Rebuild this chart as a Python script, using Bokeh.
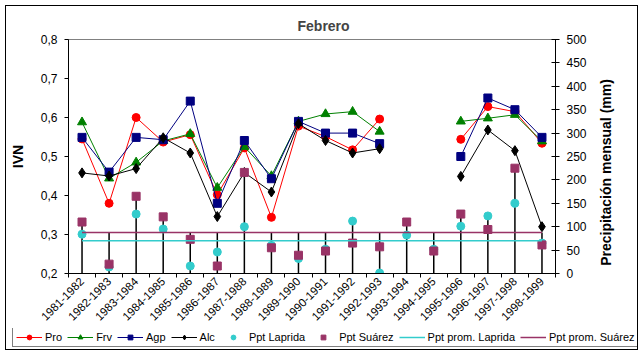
import math
from bokeh.plotting import figure
from bokeh.layouts import column, row
from bokeh.models import (Range1d, LinearAxis, FixedTicker, CustomJSTickFormatter,
                          Legend, LegendItem, ColumnDataSource)
from bokeh.embed import file_html
from bokeh.resources import INLINE

nan = float("nan")

seasons = ["1981-1982", "1982-1983", "1983-1984", "1984-1985", "1985-1986", "1986-1987",
           "1987-1988", "1988-1989", "1989-1990", "1990-1991", "1991-1992", "1992-1993",
           "1993-1994", "1994-1995", "1995-1996", "1996-1997", "1997-1998", "1998-1999"]

pro = [0.545, 0.380, 0.600, 0.537, 0.556, 0.402, 0.522, 0.344, 0.578, 0.551, 0.517, 0.596,
       nan, nan, 0.544, 0.628, 0.615, 0.534]
frv = [0.588, 0.444, 0.485, 0.540, 0.558, 0.420, 0.525, 0.450, 0.590, 0.609, 0.615, 0.564,
       nan, nan, 0.590, 0.598, 0.607, 0.539]
agp = [0.549, 0.460, 0.549, 0.543, 0.642, 0.380, 0.541, 0.443, 0.590, 0.560, 0.560, 0.533,
       nan, nan, 0.500, 0.650, 0.620, 0.549]
alc = [0.458, 0.450, 0.469, 0.548, 0.509, 0.346, 0.459, 0.409, 0.584, 0.541, 0.509, 0.520,
       nan, nan, 0.449, 0.568, 0.515, 0.320]

ppt_laprida = [84, 14, 127, 95, 16, 46, 100, 60, 32, 52, 112, 1, 82, 52, 101, 123, 150, 65]
ppt_suarez = [110, 20, 165, 121, 73, 16, 216, 55, 39, 48, 65, 57, 110, 48, 127, 94, 225, 61]
prom_laprida = 70.0
prom_suarez = 87.5

ivn_ticks = [0.2, 0.3, 0.4, 0.5, 0.6, 0.7, 0.8]
ppt_ticks = [0, 50, 100, 150, 200, 250, 300, 350, 400, 450, 500]

n = len(seasons)
xc = [i + 0.5 for i in range(n)]
prom_l = [prom_laprida] * n
prom_s = [prom_suarez] * n
drop_top = [max(v for v in (a, b, c, d) if v == v) for a, b, c, d in
            zip(ppt_laprida, ppt_suarez, prom_l, prom_s)]

src = ColumnDataSource(dict(x=xc, pro=pro, frv=frv, agp=agp, alc=alc,
                            lap=ppt_laprida, sua=ppt_suarez, pl=prom_l, ps=prom_s,
                            top=drop_top, zero=[0] * n))

FONT = "Liberation Sans"

series_style = [
    # label, column, colour, marker, size, has_line, y_range
    ("Pro", "pro", "#FF0000", "circle", 8, True, "default"),
    ("Frv", "frv", "#008000", "triangle", 9, True, "default"),
    ("Agp", "agp", "#000080", "square", 8, True, "default"),
    ("Alc", "alc", "#000000", "diamond", 10, True, "default"),
    ("Ppt Laprida", "lap", "#33CCCC", "circle", 8, False, "ppt"),
    ("Ppt Suárez", "sua", "#993366", "square", 8, False, "ppt"),
]


def no_align(fig):
    try:
        fig.frame_align = False
    except Exception:
        pass


def blank(fig):
    fig.xgrid.visible = False
    fig.ygrid.visible = False
    fig.background_fill_color = "white"
    fig.border_fill_color = "white"


# ---------------- main chart ----------------
p = figure(width=587, height=322, x_range=Range1d(0, n), y_range=Range1d(0.2, 0.8),
           output_backend="svg", toolbar_location=None,
           min_border_left=61, min_border_right=38, min_border_top=33, min_border_bottom=55)
p.extra_y_ranges = {"ppt": Range1d(0, 500)}
blank(p)
no_align(p)
p.outline_line_color = "#808080"

p.title.text = "Febrero"
p.title.text_font = FONT
p.title.text_font_size = "14px"
p.title.text_font_style = "bold"
p.title.align = "left"
p.title.offset = 229
p.title.standoff = 12

xa = p.xaxis[0]
xa.ticker = FixedTicker(ticks=xc, minor_ticks=list(range(n + 1)))
xa.major_label_overrides = {x: s for x, s in zip(xc, seasons)}
xa.major_label_orientation = math.pi / 4
xa.major_tick_in = 0
xa.major_tick_out = 0
xa.minor_tick_in = 0
xa.minor_tick_out = 4
xa.minor_tick_line_color = "black"
xa.axis_line_color = "black"
xa.major_label_text_font = FONT
xa.major_label_text_font_size = "11.5px"
xa.major_label_text_color = "black"
xa.major_label_standoff = 2

ya = p.yaxis[0]
ya.ticker = FixedTicker(ticks=ivn_ticks)
ya.formatter = CustomJSTickFormatter(code="return tick.toFixed(1).replace('.', ',');")
ya.major_tick_in = 0
ya.major_tick_out = 4
ya.minor_tick_line_color = None
ya.axis_line_color = "black"
ya.major_tick_line_color = "black"
ya.major_label_text_font = FONT
ya.major_label_text_font_size = "12px"
ya.major_label_text_color = "black"
ya.major_label_standoff = 7
ya.axis_label = "IVN"
ya.axis_label_text_font = FONT
ya.axis_label_text_font_size = "14px"
ya.axis_label_text_font_style = "bold"
ya.axis_label_text_color = "black"
ya.axis_label_standoff = 12

ra = LinearAxis(y_range_name="ppt", ticker=FixedTicker(ticks=ppt_ticks))
ra.major_tick_in = 4
ra.major_tick_out = 4
ra.minor_tick_line_color = None
ra.axis_line_color = "black"
ra.major_tick_line_color = "black"
ra.major_label_text_font = FONT
ra.major_label_text_font_size = "12px"
ra.major_label_text_color = "black"
ra.major_label_standoff = 7
p.add_layout(ra, "right")

p.segment(x0="x", y0="zero", x1="x", y1="top", source=src, y_range_name="ppt",
          line_color="black", line_width=1.5)

for label, col, color, marker, size, has_line, yr in series_style:
    if has_line:
        p.line("x", col, source=src, line_color=color, line_width=1, y_range_name=yr)
    p.scatter("x", col, source=src, marker=marker, size=size, y_range_name=yr,
              fill_color=color, line_color=color)
p.line("x", "pl", source=src, y_range_name="ppt", line_color="#33CCCC", line_width=1.5)
p.line("x", "ps", source=src, y_range_name="ppt", line_color="#993366", line_width=1.5)

# ---------------- right axis title strip ----------------
r = figure(width=44, height=322, x_range=Range1d(0, 1), y_range=Range1d(0, 1),
           output_backend="svg", toolbar_location=None,
           min_border_left=20, min_border_right=0, min_border_top=60, min_border_bottom=50)
blank(r)
no_align(r)
r.outline_line_color = None
r.xaxis.visible = False
ry = r.yaxis[0]
ry.ticker = FixedTicker(ticks=[])
ry.axis_line_color = None
ry.major_tick_line_color = None
ry.minor_tick_line_color = None
ry.major_tick_in = 0
ry.major_tick_out = 0
ry.major_label_standoff = 0
ry.axis_label = "Precipitación mensual (mm)"
ry.axis_label_text_font = FONT
ry.axis_label_text_font_size = "14px"
ry.axis_label_text_font_style = "bold"
ry.axis_label_text_color = "black"
ry.axis_label_standoff = 0

# ---------------- legend strip ----------------
q = figure(width=631, height=21, x_range=Range1d(0, 1), y_range=Range1d(0, 1),
           output_backend="svg", toolbar_location=None,
           min_border_left=0, min_border_right=0, min_border_top=0, min_border_bottom=0)
blank(q)
no_align(q)
q.axis.visible = False
q.outline_line_color = None

dummy = ColumnDataSource(dict(x=[nan], y=[nan]))
items = []
for label, col, color, marker, size, has_line, yr in series_style:
    rs = []
    if has_line:
        rs.append(q.line("x", "y", source=dummy, line_color=color, line_width=1))
    rs.append(q.scatter("x", "y", source=dummy, marker=marker, size=size,
                        fill_color=color, line_color=color))
    items.append(LegendItem(label=label, renderers=rs))
items.append(LegendItem(label="Ppt prom. Laprida", renderers=[
    q.line("x", "y", source=dummy, line_color="#33CCCC", line_width=1.5)]))
items.append(LegendItem(label="Ppt prom. Suárez", renderers=[
    q.line("x", "y", source=dummy, line_color="#993366", line_width=1.5)]))

legend = Legend(items=items, orientation="horizontal", location=(6, 2))
legend.label_text_font = FONT
legend.label_text_font_size = "11px"
legend.label_text_color = "black"
legend.glyph_width = 26
legend.glyph_height = 12
legend.label_height = 12
legend.label_width = 0
legend.label_standoff = 3
legend.spacing = 5
legend.padding = 3
legend.margin = 0
legend.border_line_color = "black"
legend.border_line_width = 1
legend.background_fill_color = "white"
legend.background_fill_alpha = 1
q.add_layout(legend, "center")

layout = column(row(p, r, spacing=0), q, spacing=0,
                styles={"border": "1px solid black", "background-color": "white"})
layout.margin = (5, 0, 0, 5)

open("out.html", "w").write(file_html(layout, INLINE))
